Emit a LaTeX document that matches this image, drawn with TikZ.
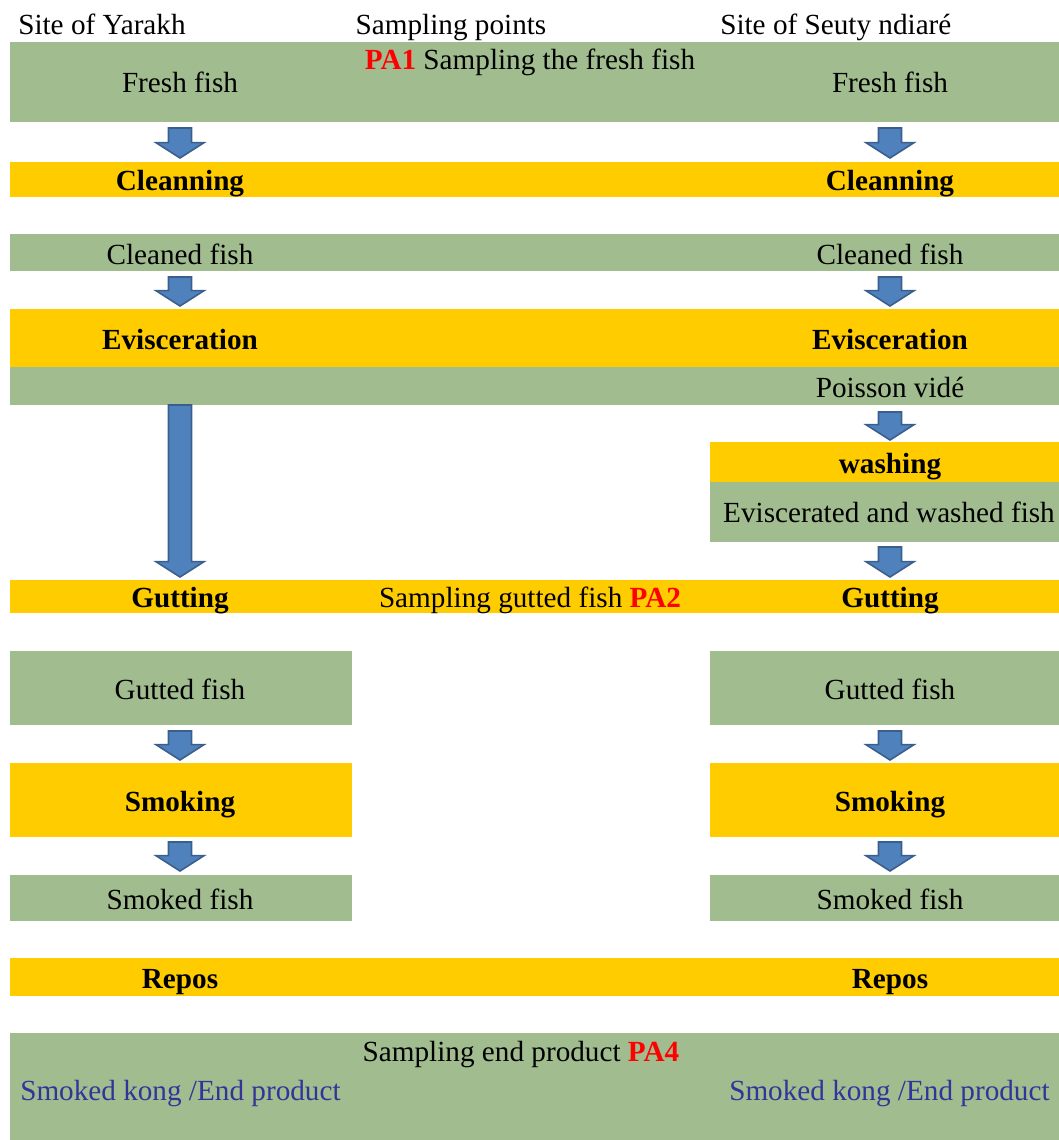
\documentclass[tikz,border=0pt]{standalone}
\usepackage{fontspec}
\setmainfont{Liberation Serif}
\usepackage{tikz}
\usetikzlibrary{fit,calc}
\definecolor{bandgreen}{RGB}{161,189,143}
\definecolor{bandorange}{RGB}{255,204,0}
\definecolor{arrowfill}{RGB}{79,129,189}
\definecolor{arrowline}{RGB}{58,95,142}
\definecolor{sampred}{RGB}{255,0,0}
\definecolor{prodblue}{RGB}{51,51,153}
\tikzstyle{greenband}=[fill=bandgreen,inner sep=0pt,outer sep=0pt]
\tikzstyle{orangeband}=[fill=bandorange,inner sep=0pt,outer sep=0pt]
\tikzstyle{lbl}=[inner sep=0pt,anchor=base,font=\fontsize{21.9}{26}\selectfont]
\tikzstyle{blbl}=[lbl,font=\fontsize{21.9}{26}\selectfont\bfseries]
\tikzstyle{flowarrow}=[fill=arrowfill,draw=arrowline,line width=1.2pt,line join=miter]
\newcommand{\blockarrow}[2]{%
  \draw[flowarrow] let \p1=#1, \p2=#2 in
    (\x1-8.6pt,\y1) -- (\x1+8.6pt,\y1) -- (\x1+8.6pt,\y2+11.5pt) -- (\x1+18pt,\y2+11.5pt)
    -- (\x1,\y2) -- (\x1-18pt,\y2+11.5pt) -- (\x1-8.6pt,\y2+11.5pt) -- cycle;}

\begin{document}
\begin{tikzpicture}[x=0.75pt,y=-0.75pt]
\useasboundingbox (0,0) rectangle (1059,1140);
% bands
\node[greenband, fit={(10,42) (1059,122)}] (bfresh) {};
\node[orangeband, fit={(10,162) (1059,197)}] (bclean) {};
\node[greenband, fit={(10,234) (1059,271)}] (bcleaned) {};
\node[orangeband, fit={(10,309) (1059,367)}] (bevisc) {};
\node[greenband, fit={(10,367) (1059,405)}] (bvide) {};
\node[orangeband, fit={(710,442) (1059,482)}] (bwash) {};
\node[greenband, fit={(710,482) (1059,542)}] (bwashed) {};
\node[orangeband, fit={(10,580) (1059,613)}] (bgut) {};
\node[greenband, fit={(10,651) (352,725)}] (bgutted1) {};
\node[greenband, fit={(710,651) (1059,725)}] (bgutted2) {};
\node[orangeband, fit={(10,763) (352,837)}] (bsmoke1) {};
\node[orangeband, fit={(710,763) (1059,837)}] (bsmoke2) {};
\node[greenband, fit={(10,875) (352,921)}] (bsmoked1) {};
\node[greenband, fit={(710,875) (1059,921)}] (bsmoked2) {};
\node[orangeband, fit={(10,958) (1059,996)}] (brepos) {};
\node[greenband, fit={(10,1033) (1059,1140)}] (bend) {};
% headings
\node[lbl, anchor=base west] (hyarakh) at (18,34) {Site of Yarakh};
\node[lbl] (hpoints) at (451,34) {Sampling points};
\node[lbl, anchor=base west] (hseuty) at (720,34) {Site of Seuty ndiaré};
% steps
\node[lbl] (pa1) at (530,69) {\textbf{\color{sampred}PA1} Sampling the fresh fish};
\node[lbl] (fish1) at (180,92) {Fresh fish};
\node[lbl] (fish2) at (890,92) {Fresh fish};
\node[blbl] (clean1) at (180,190) {Cleanning};
\node[blbl] (clean2) at (890,190) {Cleanning};
\node[lbl] (cleaned1) at (180,264) {Cleaned fish};
\node[lbl] (cleaned2) at (890,264) {Cleaned fish};
\node[blbl] (evisc1) at (180,349) {Evisceration};
\node[blbl] (evisc2) at (890,349) {Evisceration};
\node[lbl] (vide2) at (890,397) {Poisson vidé};
\node[blbl] (wash2) at (890,473) {washing};
\node[lbl] (washed2) at (889,522) {Eviscerated and washed fish};
\node[blbl] (gut1) at (180,607) {Gutting};
\node[blbl] (gut2) at (890,607) {Gutting};
\node[lbl] (pa2) at (530,607) {Sampling gutted fish \textbf{\color{sampred}PA2}};
\node[lbl] (gutted1) at (180,699) {Gutted fish};
\node[lbl] (gutted2) at (890,699) {Gutted fish};
\node[blbl] (smoke1) at (180,811) {Smoking};
\node[blbl] (smoke2) at (890,811) {Smoking};
\node[lbl] (smoked1) at (180,909) {Smoked fish};
\node[lbl] (smoked2) at (890,909) {Smoked fish};
\node[blbl] (repos1) at (180,988) {Repos};
\node[blbl] (repos2) at (890,988) {Repos};
\node[lbl] (pa4) at (521,1061) {Sampling end product \textbf{\color{sampred}PA4}};
\node[lbl, anchor=base west, text=prodblue] (end1) at (20,1100) {Smoked kong /End product};
\node[lbl, anchor=base west, text=prodblue] (end2) at (729,1100) {Smoked kong /End product};
% arrows
\foreach \c in {fish1,fish2} {
  \blockarrow{($(bfresh.south -| \c)+(0,6)$)}{($(bclean.north -| \c)+(0,-4)$)}
  \blockarrow{($(bcleaned.south -| \c)+(0,6)$)}{($(bevisc.north -| \c)+(0,-3)$)}
}
\blockarrow{(bvide.south -| fish1)}{($(bgut.north -| fish1)+(0,-3)$)}
\blockarrow{($(bvide.south -| fish2)+(0,7)$)}{($(bwash.north -| fish2)+(0,-2)$)}
\blockarrow{($(bwashed.south -| fish2)+(0,5)$)}{($(bgut.north -| fish2)+(0,-3)$)}
\blockarrow{($(bgutted1.south -| fish1)+(0,6)$)}{($(bsmoke1.north -| fish1)+(0,-3)$)}
\blockarrow{($(bgutted2.south -| fish2)+(0,6)$)}{($(bsmoke2.north -| fish2)+(0,-3)$)}
\blockarrow{($(bsmoke1.south -| fish1)+(0,5)$)}{($(bsmoked1.north -| fish1)+(0,-4)$)}
\blockarrow{($(bsmoke2.south -| fish2)+(0,5)$)}{($(bsmoked2.north -| fish2)+(0,-4)$)}
\end{tikzpicture}
\end{document}
